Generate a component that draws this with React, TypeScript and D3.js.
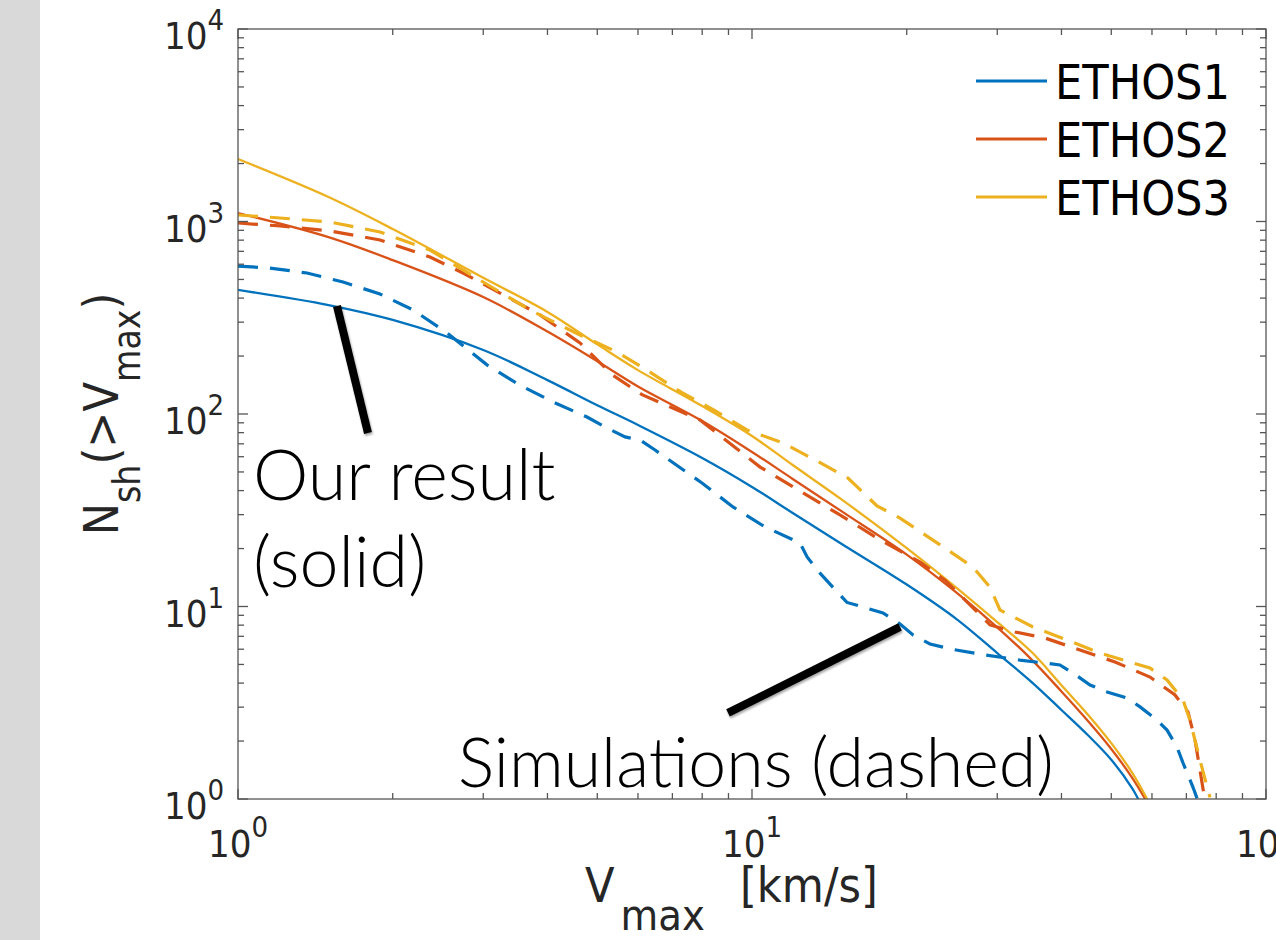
import * as d3 from "d3"

/* ----------------------- data ------------------------- */

// semi-analytic model, [Vmax km/s, N(>Vmax)]
const ethos1Model: [number, number][] = [
  [1, 441], [1.5, 368], [2, 308], [3, 215], [4, 150], [5, 111], [6, 87.7], [8, 59.1],
  [10, 41.8], [12, 30.6], [15, 21], [20, 13], [25, 8.6], [30, 5.73], [35, 4.05],
  [40, 2.9], [45, 2.15], [50, 1.6], [55, 1.13], [56.4, 1],
]
const ethos2Model: [number, number][] = [
  [1, 1107], [1.5, 830], [2, 630], [3, 405], [4, 268], [5, 188], [6, 139], [8, 92],
  [10, 63.5], [12, 46], [15, 31], [20, 18.6], [25, 11.8], [30, 7.8], [35, 5.3],
  [40, 3.62], [45, 2.55], [50, 1.82], [55, 1.28], [58.2, 1],
]
const ethos3Model: [number, number][] = [
  [1, 2110], [1.5, 1340], [2, 914], [3, 510], [4, 339], [5, 230], [6, 169], [8, 110],
  [10, 76.9], [12, 54.3], [15, 35.7], [20, 20.1], [25, 12.5], [30, 8.3], [35, 5.8],
  [40, 3.9], [45, 2.75], [50, 1.95], [55, 1.36], [58.7, 1],
]

// simulations
const ethos1Sim: [number, number][] = [
  [1, 587], [1.154, 573], [1.362, 540], [1.601, 485], [1.889, 420], [2.191, 347],
  [2.551, 264], [3.051, 180], [3.538, 141], [4.174, 113], [4.775, 96.5], [5.224, 84.6],
  [5.662, 76], [6.056, 73.3], [6.477, 65], [6.99, 56.3], [7.993, 43.8], [9.183, 32.9],
  [10.6, 25.9], [12.4, 21.4], [12.8, 18.1], [13.56, 14.9], [15.3, 10.5], [16.44, 9.94],
  [17.98, 9.25], [19.41, 8.11], [20.57, 7.11], [22.2, 6.39], [24.28, 6.02], [28.4, 5.6],
  [33.21, 5.27], [39.73, 4.97], [42.12, 4.51], [45.47, 3.91], [49.06, 3.6], [53.66, 3.35],
  [56.88, 3.01], [61.38, 2.57], [64.19, 2.28], [67.12, 1.86], [68.95, 1.54], [72.11, 1.15],
  [73.5, 1],
]
const ethos2Sim: [number, number][] = [
  [1, 982], [1.207, 948], [1.51, 893], [1.889, 802], [2.363, 654], [2.74, 540],
  [3.234, 425], [3.869, 327], [4.628, 234], [5.342, 160], [6.109, 126], [7.922, 93.1],
  [10.37, 53], [12.12, 41.3], [14.83, 29.9], [17.74, 22.2], [21.23, 17], [23.74, 13.7],
  [26.56, 10.2], [29.04, 8.02], [32.49, 7.37], [37.16, 6.86], [43.46, 5.94], [50.84, 5.15],
  [59.47, 4.3], [66.53, 3.47], [70.51, 2.83], [72.76, 2.03], [74.4, 1.41], [75.75, 1.05],
]
const ethos3Sim: [number, number][] = [
  [1, 1081], [1.207, 1043], [1.51, 994], [1.889, 882], [2.363, 711], [2.74, 560],
  [3.7, 347], [4.628, 257], [5.464, 210], [6.332, 165], [7.308, 129], [8.472, 104],
  [9.779, 82.6], [11.49, 70.7], [13.38, 57], [15.37, 46.5], [17.51, 33.3], [19.41, 28.8],
  [23.22, 20.9], [26.92, 16], [29.04, 12.6], [30.37, 9.59], [35.21, 7.83], [41.01, 6.7],
  [47.53, 5.73], [59.47, 4.79], [64.19, 4.15], [68.95, 3.27], [71.14, 2.57], [74.4, 1.59],
  [77.8, 1.02],
]

const seriesNames = ["ETHOS1", "ETHOS2", "ETHOS3"]
const seriesColors = ["#0072BD", "#D95319", "#EDB120"]
const models = [ethos1Model, ethos2Model, ethos3Model]
const sims = [ethos1Sim, ethos2Sim, ethos3Sim]

const xDecades = [0, 1, 2]
const yDecades = [0, 1, 2, 3, 4]

// annotation pointers, in data units
const pointerSolid: [number, number][] = [[1.558, 364], [1.79, 79.7]]
const pointerDashed: [number, number][] = [[19.41, 7.83], [8.98, 2.8]]

/* ----------------------- React ------------------------- */

const numFont = "'DejaVu Sans Condensed', 'DejaVu Sans', sans-serif"
const noteFont = "Lato, 'Open Sans', sans-serif"
const axisColor = "#262626"

export default function App() {
  const width = 1276
  const height = 940
  const plot = { left: 238, right: 1266, top: 29, bottom: 799 }

  const xScale = d3.scaleLog().domain([1, 100]).range([plot.left, plot.right])
  const yScale = d3.scaleLog().domain([1, 1e4]).range([plot.bottom, plot.top])

  const solidLine = d3.line<[number, number]>()
    .x(d => xScale(d[0]))
    .y(d => yScale(d[1]))
    .curve(d3.curveCatmullRom)
  const simLine = d3.line<[number, number]>()
    .x(d => xScale(d[0]))
    .y(d => yScale(d[1]))

  const xTicks = xScale.ticks()
  const yTicks = yScale.ticks()
  const isMajor = (v: number) => Math.abs(Math.log10(v) - Math.round(Math.log10(v))) < 1e-9

  return (
    <svg width={width} height={height} style={{ position: "absolute", left: 0, top: 0, background: "#fff" }}>
      <rect x={0} y={0} width={40} height={height} fill="#d9d9d9" />
      <defs>
        <clipPath id="plotClip">
          <rect x={plot.left} y={plot.top} width={plot.right - plot.left} height={plot.bottom - plot.top} />
        </clipPath>
      </defs>

      {/* model curves */}
      <g clipPath="url(#plotClip)" fill="none">
        {models.map((m, i) => (
          <path key={"m" + i} d={solidLine(m) ?? ""} stroke={seriesColors[i]} strokeWidth={2.3} />
        ))}
        {sims.map((s, i) => (
          <path key={"s" + i} d={simLine(s) ?? ""} stroke={seriesColors[i]} strokeWidth={3.2}
            strokeDasharray="20 12" />
        ))}
      </g>

      {/* box + ticks */}
      <g stroke="#555" strokeWidth={1.3} fill="none">
        <rect x={plot.left} y={plot.top} width={plot.right - plot.left} height={plot.bottom - plot.top} />
        {xTicks.map(t => {
          const x = xScale(t)
          const len = isMajor(t) ? 10 : 6
          return (
            <g key={"xt" + t}>
              <line x1={x} x2={x} y1={plot.bottom} y2={plot.bottom - len} />
              <line x1={x} x2={x} y1={plot.top} y2={plot.top + len} />
            </g>
          )
        })}
        {yTicks.map(t => {
          const y = yScale(t)
          const len = isMajor(t) ? 10 : 6
          return (
            <g key={"yt" + t}>
              <line x1={plot.left} x2={plot.left + len} y1={y} y2={y} />
              <line x1={plot.right} x2={plot.right - len} y1={y} y2={y} />
            </g>
          )
        })}
      </g>

      {/* tick labels */}
      <g fill={axisColor} fontFamily={numFont} fontSize={38}>
        {yDecades.map(e => (
          <text key={"yl" + e} x={plot.left - 14} y={yScale(Math.pow(10, e)) + 20} textAnchor="end">
            10<tspan dy={-19} fontSize={29}>{e}</tspan>
          </text>
        ))}
        {xDecades.map(e => (
          <text key={"xl" + e} x={xScale(Math.pow(10, e))} y={plot.bottom + 58} textAnchor="middle">
            10<tspan dy={-20} fontSize={29}>{e}</tspan>
          </text>
        ))}
      </g>

      {/* axis labels */}
      <g fill={axisColor} fontFamily={numFont} fontSize={48}>
        <text x={585} y={902}>
          V<tspan dx={6} dy={28} fontSize={43}>max</tspan>
          <tspan x={740} dy={-28}>[km/s]</tspan>
        </text>
        <text transform={`translate(118, ${(plot.top + plot.bottom) / 2}) rotate(-90)`} textAnchor="middle">
          N<tspan dy={22} fontSize={37}>sh</tspan>
          <tspan dy={-22}>(&gt;V</tspan>
          <tspan dy={22} fontSize={37}>max</tspan>
          <tspan dy={-22}>)</tspan>
        </text>
      </g>

      {/* legend */}
      <g fontFamily={numFont} fontSize={48} fill="#000">
        {seriesNames.map((name, i) => {
          const y = 81 + i * 58
          return (
            <g key={name}>
              <line x1={976} x2={1047} y1={y} y2={y} stroke={seriesColors[i]} strokeWidth={3} />
              <text x={1055} y={y + 18}>{name}</text>
            </g>
          )
        })}
      </g>

      {/* annotations */}
      <g stroke="#000" strokeWidth={8} style={{ filter: "drop-shadow(1px 2px 1px rgba(0,0,0,0.35))" }}>
        <line x1={xScale(pointerSolid[0][0])} y1={yScale(pointerSolid[0][1])}
          x2={xScale(pointerSolid[1][0])} y2={yScale(pointerSolid[1][1])} />
        <line x1={xScale(pointerDashed[0][0])} y1={yScale(pointerDashed[0][1])}
          x2={xScale(pointerDashed[1][0])} y2={yScale(pointerDashed[1][1])} />
      </g>
      <g fontFamily={noteFont} fontWeight={300} fontSize={70} fill="#000">
        <text x={253} y={500}>Our result</text>
        <text x={253} y={587}>(solid)</text>
        <text x={458} y={787} fontSize={68}>Simulations (dashed)</text>
      </g>
    </svg>
  )
}
